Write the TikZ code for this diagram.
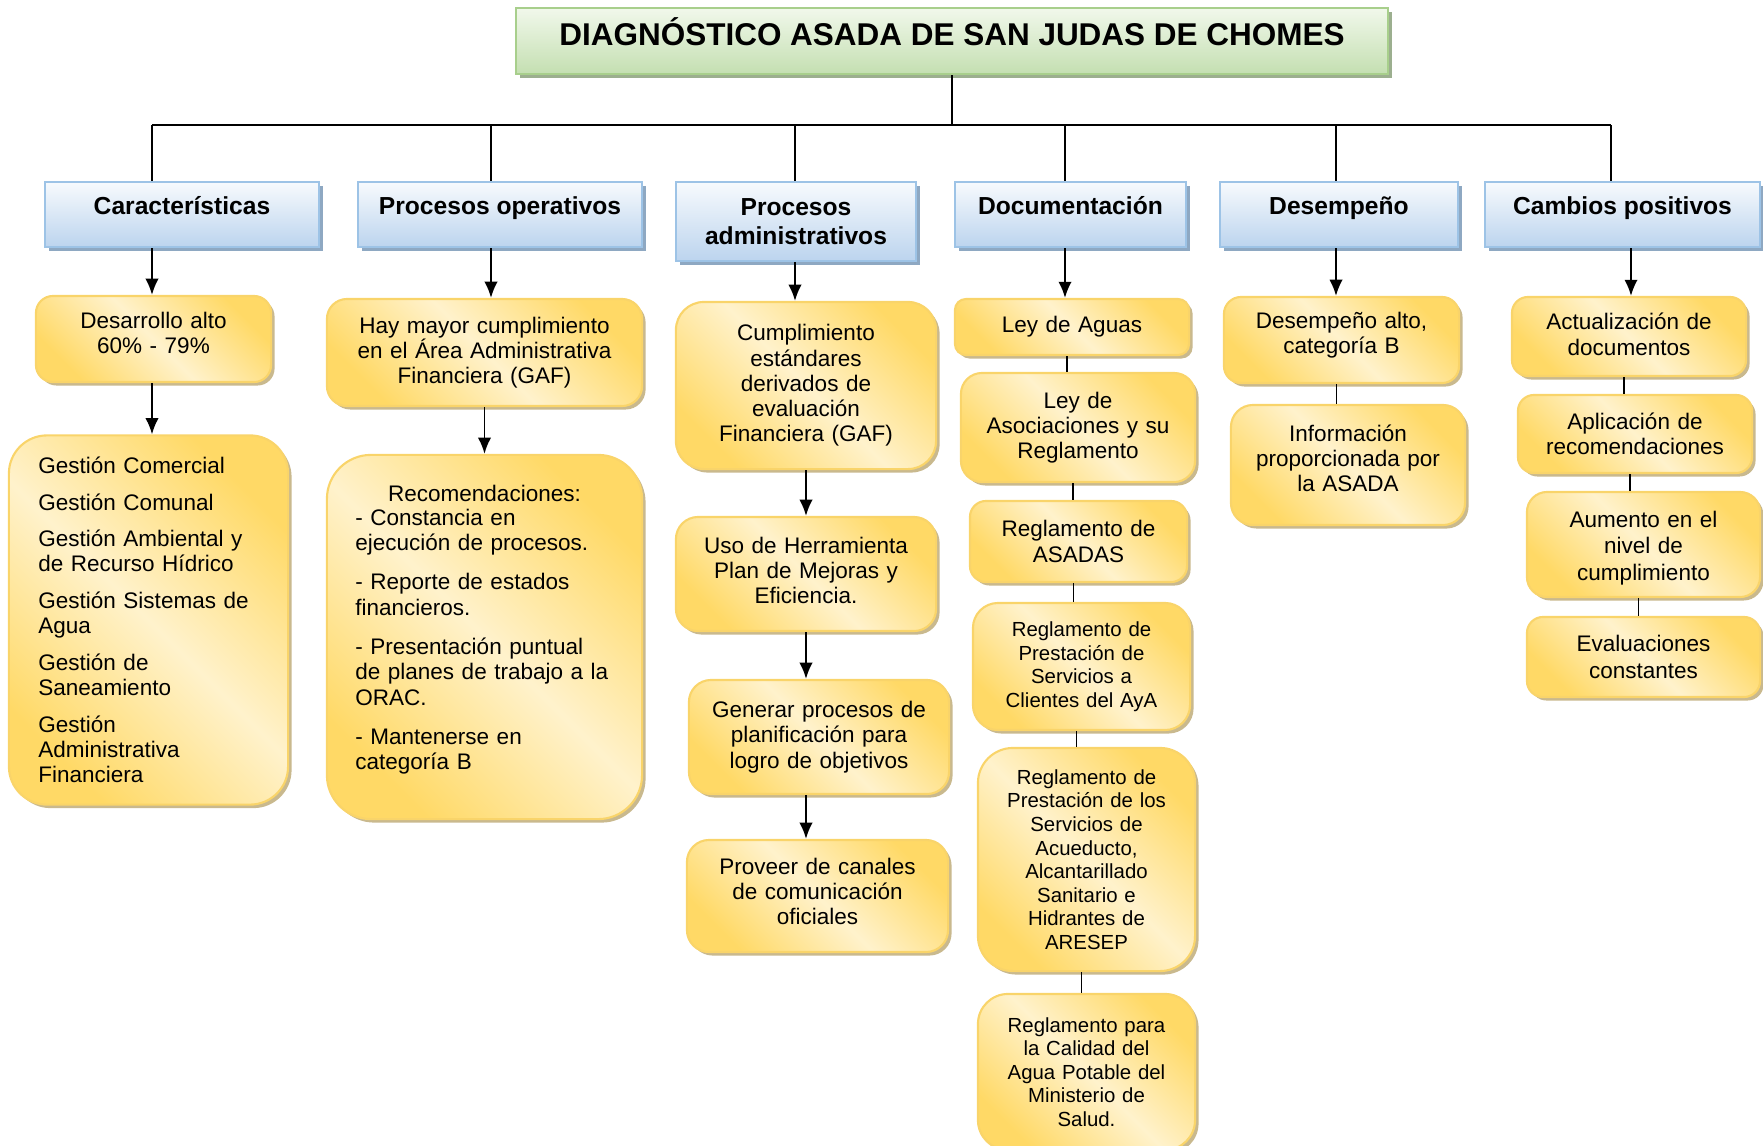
\documentclass[tikz,border=0pt]{standalone}
\usepackage{fontspec}
\setmainfont{Liberation Sans}
\usetikzlibrary{shadows,positioning,calc,arrows.meta}

\definecolor{tittop}{HTML}{F1F8EB}
\definecolor{titbot}{HTML}{C4DFB1}
\definecolor{titbor}{HTML}{A8CF8C}
\definecolor{titsha}{HTML}{9CAF8F}
\definecolor{hdrtop}{HTML}{F7FAFD}
\definecolor{hdrbot}{HTML}{BCD4EE}
\definecolor{hdrbor}{HTML}{9DC3E6}
\definecolor{hdrsha}{HTML}{8EA8C2}
\definecolor{ygold}{HTML}{FFD966}
\definecolor{ylight}{HTML}{FFF2CC}
\definecolor{ybor}{HTML}{F9D46A}
\definecolor{ysha}{HTML}{C9B98E}

\newcommand{\bodyfont}{\fontsize{6.4}{7.2}\selectfont}
\newcommand{\smallbody}{\fontsize{5.8}{6.7}\selectfont}
% puntales para subir / bajar el texto en la caja
\newcommand{\dnstrut}[1]{\rule[-#1]{0pt}{0pt}}
\newcommand{\upstrut}[1]{\rule{0pt}{#1}}

\tikzset{
  titlebox/.style={draw=titbor, line width=0.6pt, top color=tittop, bottom color=titbot,
    font=\fontsize{8.95}{11}\selectfont\bfseries, text height=7pt, text depth=4.6pt,
    drop shadow={shadow xshift=0.04cm, shadow yshift=-0.04cm, fill=titsha, opacity=1}},
  hdrbox/.style={draw=hdrbor, line width=0.6pt, top color=hdrtop, bottom color=hdrbot,
    font=\fontsize{7}{8.2}\selectfont\bfseries, align=center,
    drop shadow={shadow xshift=0.04cm, shadow yshift=-0.04cm, fill=hdrsha, opacity=1}},
  hdrone/.style={text height=5pt, text depth=5pt},
  ybox/.style={draw=ybor, line width=0.6pt, top color=ygold, bottom color=ygold,
    middle color=ylight, shading angle=-45, align=center, font=\bodyfont, inner sep=0pt,
    drop shadow={shadow xshift=0.035cm, shadow yshift=-0.035cm, fill=ysha, opacity=1}},
  conn/.style={line width=0.55pt},
  arr/.style={conn,-{Latex[length=4.6pt,width=3.8pt]}},
}

\begin{document}
\begin{tikzpicture}[x=0.01cm,y=-0.01cm]
\useasboundingbox (0,0) rectangle (1763,1145);

% titulo
\node[titlebox, minimum width=8.72cm, minimum height=0.66cm] (diag) at (952,41) {DIAGNÓSTICO ASADA DE SAN JUDAS DE CHOMES};

% barra horizontal
\coordinate (bcar) at (152,125);
\coordinate (bope) at (491,125);
\coordinate (badm) at (795,125);
\coordinate (bdoc) at (1065,125);
\coordinate (bdes) at (1336,125);
\coordinate (bcam) at (1611,125);

% encabezados
\node[hdrbox, hdrone, minimum width=2.74cm, minimum height=0.65cm] (hcar) at (182,214.5) {Características};
\node[hdrbox, hdrone, minimum width=2.84cm, minimum height=0.65cm] (hope) at (500,214.5) {Procesos operativos};
\node[hdrbox, minimum width=2.40cm, minimum height=0.79cm] (hadm) at (796,221.5) {Procesos\\administrativos};
\node[hdrbox, hdrone, minimum width=2.31cm, minimum height=0.65cm] (hdoc) at (1070.5,214.5) {Documentación};
\node[hdrbox, hdrone, minimum width=2.38cm, minimum height=0.65cm] (hdes) at (1339,214.5) {Desempeño};
\node[hdrbox, hdrone, minimum width=2.75cm, minimum height=0.65cm] (hcam) at (1622.5,214.5) {Cambios positivos};

% Caracteristicas
\node[ybox, rounded corners=0.17cm, minimum width=2.35cm, minimum height=0.86cm, text width=2.2cm] (car1) at (153.5,339) {Desarrollo alto\\60\% - 79\%\dnstrut{3.4pt}};
\node[ybox, rounded corners=0.38cm, minimum width=2.79cm, minimum height=3.69cm, text width=2.2cm, align=left] (car2) at (148.5,620) {Gestión Comercial\\[3.2pt]
Gestión Comunal\\[3.2pt]
Gestión Ambiental y\\de Recurso Hídrico\\[3.2pt]
Gestión Sistemas de\\Agua\\[3.2pt]
Gestión de\\Saneamiento\\[3.2pt]
Gestión\\Administrativa\\Financiera};

% Procesos operativos
\node[ybox, rounded corners=0.2cm, minimum width=3.15cm, minimum height=1.07cm, text width=3.0cm] (ope1) at (484.5,352.5) {Hay mayor cumplimiento\\en el Área Administrativa\\Financiera (GAF)};
\node[ybox, rounded corners=0.44cm, minimum width=3.15cm, minimum height=3.64cm, text width=2.58cm, align=left] (ope2) at (484.5,637) {\makebox[\hsize]{Recomendaciones:}\\[-0.6pt]
- Constancia en\\ejecución de procesos.\\[4pt]
- Reporte de estados\\financieros.\\[4pt]
- Presentación puntual\\de planes de trabajo a la\\ORAC.\\[4pt]
- Mantenerse en\\categoría B\dnstrut{5.3pt}};

% Procesos administrativos
\node[ybox, rounded corners=0.28cm, minimum width=2.6cm, minimum height=1.67cm, text width=2.45cm] (adm1) at (806,385.5) {Cumplimiento\\estándares\\derivados de\\evaluación\\Financiera (GAF)};
\node[ybox, rounded corners=0.22cm, minimum width=2.6cm, minimum height=1.14cm, text width=2.45cm] (adm2) at (806,574) {Uso de Herramienta\\Plan de Mejoras y\\Eficiencia.\dnstrut{2pt}};
\node[ybox, rounded corners=0.22cm, minimum width=2.6cm, minimum height=1.14cm, text width=2.45cm] (adm3) at (819,737) {Generar procesos de\\planificación para\\logro de objetivos};
\node[ybox, rounded corners=0.22cm, minimum width=2.61cm, minimum height=1.12cm, text width=2.45cm] (adm4) at (817.5,896) {Proveer de canales\\de comunicación\\oficiales\dnstrut{2.6pt}};

% Documentacion
\node[ybox, rounded corners=0.11cm, minimum width=2.34cm, minimum height=0.56cm, text width=2.2cm] (doc1) at (1072,327) {Ley de Aguas};
\node[ybox, rounded corners=0.21cm, minimum width=2.34cm, minimum height=1.09cm, text width=2.2cm] (doc2) at (1078,427.5) {Ley de\\Asociaciones y su\\Reglamento};
\node[ybox, rounded corners=0.16cm, minimum width=2.17cm, minimum height=0.81cm, text width=2.05cm] (doc3) at (1078.5,541.5) {Reglamento de\\ASADAS};
\node[ybox, font=\smallbody, rounded corners=0.25cm, minimum width=2.17cm, minimum height=1.27cm, text width=2.05cm] (doc4) at (1081.5,666.5) {Reglamento de\\Prestación de\\Servicios a\\Clientes del AyA};
\node[ybox, font=\smallbody, rounded corners=0.35cm, minimum width=2.17cm, minimum height=2.23cm, text width=2.05cm] (doc5) at (1086.5,859.5) {Reglamento de\\Prestación de los\\Servicios de\\Acueducto,\\Alcantarillado\\Sanitario e\\Hidrantes de\\ARESEP};
\node[ybox, font=\smallbody, rounded corners=0.3cm, minimum width=2.17cm, minimum height=1.56cm, text width=2.05cm] (doc6) at (1086.5,1072) {Reglamento para\\la Calidad del\\Agua Potable del\\Ministerio de\\Salud.};

% Desempeno
\node[ybox, rounded corners=0.17cm, minimum width=2.35cm, minimum height=0.86cm, text width=2.2cm] (des1) at (1341.5,340) {Desempeño alto,\\categoría B\dnstrut{4.1pt}};
\node[ybox, rounded corners=0.22cm, minimum width=2.34cm, minimum height=1.2cm, text width=2.2cm] (des2) at (1348,465) {Información\\proporcionada por\\la ASADA\dnstrut{3.8pt}};

% Cambios positivos
\node[ybox, rounded corners=0.16cm, minimum width=2.34cm, minimum height=0.79cm, text width=2.2cm] (cam1) at (1629,336.5) {Actualización de\\documentos\dnstrut{1.3pt}};
\node[ybox, rounded corners=0.16cm, minimum width=2.34cm, minimum height=0.78cm, text width=2.2cm] (cam2) at (1635,434) {Aplicación de\\recomendaciones};
\node[ybox, rounded corners=0.2cm, minimum width=2.33cm, minimum height=1.05cm, text width=2.2cm, font=\fontsize{6.4}{7.5}\selectfont] (cam3) at (1643.5,544.5) {\upstrut{6.7pt}Aumento en el\\nivel de\\cumplimiento};
\node[ybox, rounded corners=0.16cm, minimum width=2.33cm, minimum height=0.8cm, text width=2.2cm, font=\fontsize{6.4}{7.5}\selectfont] (cam4) at (1643.5,657) {Evaluaciones\\constantes};

% conectores
\draw[conn] (diag.south) -- (diag.south |- bcar);
\draw[conn] (bcar) -- (bcam);
\foreach \b/\h in {bcar/hcar, bope/hope, badm/hadm, bdoc/hdoc, bdes/hdes, bcam/hcam}
  \draw[conn] (\b) -- (\b |- \h.north);

\draw[arr] (bcar |- hcar.south) -- (bcar |- car1.north);
\draw[arr] (bcar |- car1.south) -- (bcar |- car2.north);
\draw[arr] (bope |- hope.south) -- (bope |- ope1.north);
\draw[arr] (ope1.south) -- (ope1.south |- ope2.north);
\draw[arr] (badm |- hadm.south) -- (badm |- adm1.north);
\draw[arr] (adm1.south) -- (adm2.north);
\draw[arr] (adm2.south) -- (adm2.south |- adm3.north);
\draw[arr] (adm2.south |- adm3.south) -- (adm2.south |- adm4.north);
\draw[arr] (bdoc |- hdoc.south) -- (bdoc |- doc1.north);
\draw[arr] (bdes |- hdes.south) -- (bdes |- des1.north);
\draw[arr] ($(cam1.north |- hcam.south)+(2,0)$) -- ($(cam1.north)+(2,0)$);

\foreach \a/\b in {doc1/doc2, doc2/doc3, doc3/doc4, doc4/doc5, doc5/doc6, des1/des2, cam1/cam2, cam2/cam3, cam3/cam4}
  \draw[conn] ($(\a.south)+(-5,0)$) -- ($(\a.south |- \b.north)+(-5,0)$);
\end{tikzpicture}
\end{document}
